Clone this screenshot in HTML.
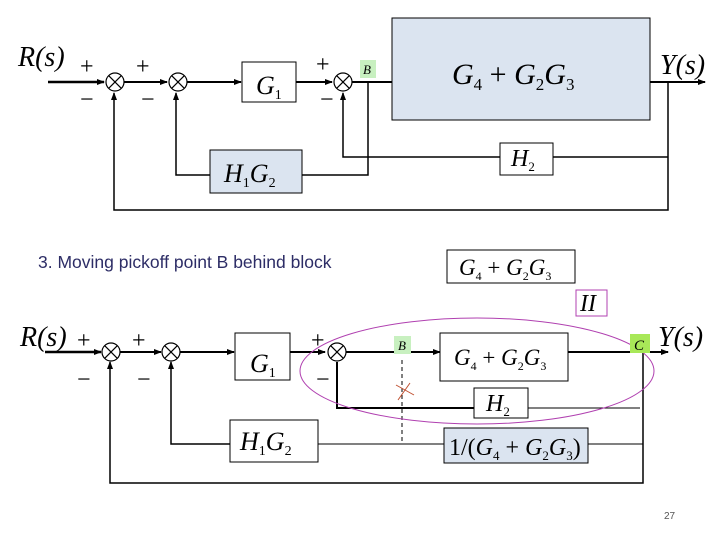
<!DOCTYPE html>
<html><head><style>
html,body{margin:0;padding:0;background:#fff;}
svg text{font-family:"Liberation Serif",serif;font-style:italic;}
</style></head><body>
<svg width="720" height="540" viewBox="0 0 720 540" xmlns="http://www.w3.org/2000/svg">
<defs>
<marker id="a" markerWidth="8" markerHeight="8" refX="7" refY="4" orient="auto" markerUnits="userSpaceOnUse"><path d="M0,1 L8,4 L0,7 z" fill="#000"/></marker>
<g id="s"><circle r="9"/><line x1="-6.4" y1="-6.4" x2="6.4" y2="6.4"/><line x1="-6.4" y1="6.4" x2="6.4" y2="-6.4"/></g>
</defs>
<g stroke="#000" fill="none" stroke-width="1.5">
<line x1="48" y1="82" x2="104" y2="82" stroke-width="2.5" marker-end="url(#a)"/>
<line x1="124" y1="82" x2="167" y2="82" stroke-width="2" marker-end="url(#a)"/>
<line x1="187" y1="82" x2="241" y2="82" stroke-width="2" marker-end="url(#a)"/>
<line x1="296" y1="82" x2="332" y2="82" stroke-width="2" marker-end="url(#a)"/>
<line x1="352" y1="82" x2="392" y2="82" stroke-width="2"/>
<line x1="650" y1="82" x2="705" y2="82" stroke-width="2" marker-end="url(#a)"/>
<polyline points="668,82 668,210 114,210 114,93" marker-end="url(#a)"/>
<polyline points="668,157 553,157"/>
<polyline points="500,157 343,157 343,93" marker-end="url(#a)"/>
<polyline points="368,82 368,175 302,175"/>
<polyline points="210,175 176,175 176,93" marker-end="url(#a)"/>
<rect x="392" y="18" width="258" height="102" fill="#dbe4f0" stroke-width="1"/>
<rect x="242" y="62" width="54" height="40" fill="#fff" stroke-width="1"/>
<rect x="500" y="143" width="53" height="32" fill="#fff" stroke-width="1"/>
<rect x="210" y="150" width="92" height="43" fill="#dbe4f0" stroke-width="1"/>
<line x1="45" y1="352" x2="101" y2="352" stroke-width="2.5" marker-end="url(#a)"/>
<line x1="120" y1="352" x2="161" y2="352" stroke-width="2" marker-end="url(#a)"/>
<line x1="180" y1="352" x2="234" y2="352" stroke-width="2" marker-end="url(#a)"/>
<line x1="290" y1="352" x2="325" y2="352" stroke-width="2" marker-end="url(#a)"/>
<line x1="345" y1="352" x2="440" y2="352" stroke-width="2" marker-end="url(#a)"/>
<line x1="565" y1="352" x2="668" y2="352" stroke-width="2" marker-end="url(#a)"/>
<polyline points="643,352 643,483 110,483 110,362" marker-end="url(#a)"/>
<line x1="640" y1="408" x2="528" y2="408" stroke-width="1"/>
<polyline points="474,408 337,408 337,362" stroke-width="2"/>
<polyline points="643,444 588,444" stroke-width="1"/>
<polyline points="444,444 318,444" stroke-width="1"/>
<polyline points="230,444 171,444 171,362" marker-end="url(#a)"/>
<line x1="402" y1="360" x2="402" y2="442" stroke-width="1" stroke-dasharray="4,3"/>
<rect x="440" y="333" width="128" height="48" fill="#fff" stroke-width="1"/>
<rect x="235" y="333" width="55" height="47" fill="#fff" stroke-width="1"/>
<rect x="474" y="388" width="54" height="30" fill="#fff" stroke-width="1"/>
<rect x="230" y="420" width="88" height="42" fill="#fff" stroke-width="1"/>
<rect x="444" y="428" width="144" height="35" fill="#dbe4f0" stroke-width="1"/>
<rect x="447" y="250" width="128" height="33" fill="#fff" stroke-width="1"/>
<rect x="576" y="290" width="31" height="26" fill="#fff" stroke="#b040b0" stroke-width="1"/>
<ellipse cx="477" cy="371" rx="177" ry="53" stroke="#b040b0" stroke-width="1"/>
<line x1="396" y1="385" x2="414" y2="395" stroke="#c05030" stroke-width="1"/>
<line x1="398" y1="400" x2="410" y2="383" stroke="#c05030" stroke-width="1"/>
</g>
<g stroke="#000" stroke-width="1.2" fill="#fff">
<use href="#s" x="115" y="82"/><use href="#s" x="178" y="82"/><use href="#s" x="343" y="82"/>
<use href="#s" x="111" y="352"/><use href="#s" x="171" y="352"/><use href="#s" x="337" y="352"/>
</g>
<rect x="360" y="60" width="16" height="18" fill="#c8f0c0"/>
<rect x="394" y="336" width="17" height="18" fill="#c8f0c0"/>
<rect x="630" y="334" width="20" height="19" fill="#a8e858"/>
<g font-size="28" fill="#000">
<text x="18" y="66">R(s)</text>
<text x="660" y="74">Y(s)</text>
<text x="20" y="346">R(s)</text>
<text x="658" y="346">Y(s)</text>
<text x="256" y="94" font-size="26">G<tspan font-size="14" dy="5" font-style="normal">1</tspan></text>
<text x="250" y="372" font-size="26">G<tspan font-size="14" dy="5" font-style="normal">1</tspan></text>
<text x="452" y="84" font-size="30">G<tspan font-size="17" dy="6" font-style="normal">4</tspan><tspan dy="-6" font-style="normal"> + </tspan>G<tspan font-size="17" dy="6" font-style="normal">2</tspan><tspan dy="-6">G</tspan><tspan font-size="17" dy="6" font-style="normal">3</tspan></text>
<text x="511" y="166" font-size="24">H<tspan font-size="13" dy="5" font-style="normal">2</tspan></text>
<text x="224" y="182" font-size="26">H<tspan font-size="14" dy="5" font-style="normal">1</tspan><tspan dy="-5">G</tspan><tspan font-size="14" dy="5" font-style="normal">2</tspan></text>
<text x="486" y="411" font-size="24">H<tspan font-size="13" dy="5" font-style="normal">2</tspan></text>
<text x="240" y="450" font-size="26">H<tspan font-size="14" dy="5" font-style="normal">1</tspan><tspan dy="-5">G</tspan><tspan font-size="14" dy="5" font-style="normal">2</tspan></text>
<text x="454" y="365" font-size="23">G<tspan font-size="12" dy="5" font-style="normal">4</tspan><tspan dy="-5" font-style="normal"> + </tspan>G<tspan font-size="12" dy="5" font-style="normal">2</tspan><tspan dy="-5">G</tspan><tspan font-size="12" dy="5" font-style="normal">3</tspan></text>
<text x="459" y="275" font-size="23">G<tspan font-size="12" dy="5" font-style="normal">4</tspan><tspan dy="-5" font-style="normal"> + </tspan>G<tspan font-size="12" dy="5" font-style="normal">2</tspan><tspan dy="-5">G</tspan><tspan font-size="12" dy="5" font-style="normal">3</tspan></text>
<text x="449" y="455" font-size="24"><tspan font-style="normal">1/(</tspan>G<tspan font-size="13" dy="5" font-style="normal">4</tspan><tspan dy="-5" font-style="normal"> + </tspan>G<tspan font-size="13" dy="5" font-style="normal">2</tspan><tspan dy="-5">G</tspan><tspan font-size="13" dy="5" font-style="normal">3</tspan><tspan dy="-5" font-style="normal">)</tspan></text>
<text x="580" y="311" font-size="24">II</text>
</g>
<g font-size="13" fill="#000">
<text x="363" y="74">B</text><text x="398" y="350">B</text><text x="634" y="350" font-size="15">C</text>
</g>
<g font-size="24" fill="#000">
<text x="80" y="74" style="font-style:normal">+</text><text x="80" y="107" style="font-style:normal">−</text>
<text x="136" y="74" style="font-style:normal">+</text><text x="141" y="107" style="font-style:normal">−</text>
<text x="316" y="72" style="font-style:normal">+</text><text x="320" y="107" style="font-style:normal">−</text>
<text x="77" y="348" style="font-style:normal">+</text><text x="77" y="387" style="font-style:normal">−</text>
<text x="132" y="348" style="font-style:normal">+</text><text x="137" y="387" style="font-style:normal">−</text>
<text x="311" y="348" style="font-style:normal">+</text><text x="316" y="387" style="font-style:normal">−</text>
</g>
<text x="38" y="268" style="font-family:'Liberation Sans',sans-serif;font-style:normal" font-size="17.5" fill="#2d2d66">3. Moving pickoff point B behind block</text>
<text x="664" y="519" style="font-family:'Liberation Sans',sans-serif;font-style:normal" font-size="10" fill="#555">27</text>
</svg>
</body></html>
